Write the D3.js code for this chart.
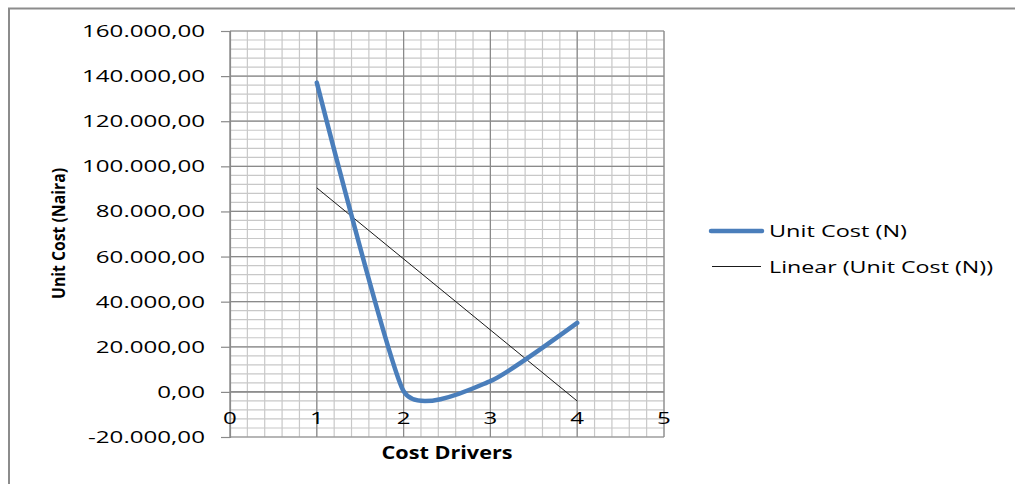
<!DOCTYPE html>
<html>
<head>
<meta charset="utf-8">
<script src="https://cdn.jsdelivr.net/npm/d3@7"></script>
<style>
  html, body { margin: 0; padding: 0; background: #fff; }
  svg { display: block; }
  text { font-family: "Open Sans", "DejaVu Sans", sans-serif; fill: #000; }
</style>
</head>
<body>
<svg id="chart" width="1015" height="484"></svg>
<script>
// Cost drivers (x) and the unit cost observed at each one
const drivers = [1, 2, 3, 4];
const unitCost = [137100, 300, 4800, 30600];

// Axis ticks
const xTicks = [0, 1, 2, 3, 4, 5];
const yTicks = [-20000, 0, 20000, 40000, 60000, 80000, 100000, 120000, 140000, 160000];

// Legend entries
const seriesName = "Unit Cost (N)";
const trendName = "Linear (Unit Cost (N))";

const svg = d3.select("#chart");
const W = 1015, H = 484;

const plot = { left: 230, right: 664, top: 31, bottom: 437 };
const x = d3.scaleLinear().domain([0, 5]).range([plot.left, plot.right]);
const y = d3.scaleLinear().domain([-20000, 160000]).range([plot.bottom, plot.top]);

const fmt = d3.formatLocale({ decimal: ",", thousands: ".", grouping: [3], currency: ["", ""], minus: "-" }).format(",.2f");

// outer frame
svg.append("rect").attr("x", 0).attr("y", 0).attr("width", W).attr("height", H).attr("fill", "#fff");
svg.append("rect")
  .attr("x", 9).attr("y", 8.5).attr("width", W + 20).attr("height", H + 20)
  .attr("fill", "none").attr("stroke", "#8c8c8c").attr("stroke-width", 2);

// minor gridlines: every 0.2 on x, every 4.000 on y
const xMinor = d3.range(0, 5.0001, 0.2);
const yMinor = d3.range(-20000, 160001, 4000);
const grid = svg.append("g");
grid.selectAll("line.xm").data(xMinor).join("line")
  .attr("x1", d => x(d)).attr("x2", d => x(d))
  .attr("y1", plot.top).attr("y2", plot.bottom)
  .attr("stroke", "#c8c8c8").attr("stroke-width", 1.2);
grid.selectAll("line.ym").data(yMinor).join("line")
  .attr("y1", d => y(d)).attr("y2", d => y(d))
  .attr("x1", plot.left).attr("x2", plot.right)
  .attr("stroke", "#c8c8c8").attr("stroke-width", 1.2);

// major gridlines
grid.selectAll("line.xM").data(xTicks).join("line")
  .attr("x1", d => x(d)).attr("x2", d => x(d))
  .attr("y1", plot.top).attr("y2", plot.bottom)
  .attr("stroke", "#8a8a8a").attr("stroke-width", 1.2);
grid.selectAll("line.yM").data(yTicks).join("line")
  .attr("y1", d => y(d)).attr("y2", d => y(d))
  .attr("x1", plot.left).attr("x2", plot.right)
  .attr("stroke", "#8a8a8a").attr("stroke-width", 1.2);

// value axis with outside tick marks
const yAxis = d3.axisLeft(y).tickValues(yTicks).tickSize(9).tickFormat("");
svg.append("g").attr("transform", `translate(${plot.left},0)`).call(yAxis)
  .call(g => g.selectAll("path, line").attr("stroke", "#8a8a8a").attr("stroke-width", 1.2));

// category axis crossing at zero
svg.append("line")
  .attr("x1", plot.left).attr("x2", plot.right)
  .attr("y1", y(0)).attr("y2", y(0))
  .attr("stroke", "#8a8a8a").attr("stroke-width", 1.2);

// tick labels, stretched horizontally like the original rendering
const tickFont = 16.6;
const probe = svg.append("text").attr("font-size", tickFont).text(fmt(160000));
const tickStretch = 123 / probe.node().getComputedTextLength();
probe.remove();

function stretched(sel) {
  sel.each(function () {
    const w = this.getComputedTextLength();
    d3.select(this).attr("textLength", w * tickStretch).attr("lengthAdjust", "spacingAndGlyphs");
  });
}

svg.append("g").selectAll("text").data(yTicks).join("text")
  .attr("x", 205).attr("y", d => y(d) + 6)
  .attr("text-anchor", "end").attr("font-size", tickFont).attr("fill", "#222")
  .text(d => fmt(d)).call(stretched);

svg.append("g").selectAll("text").data(xTicks).join("text")
  .attr("x", d => x(d)).attr("y", 424)
  .attr("text-anchor", "middle").attr("font-size", tickFont).attr("fill", "#222")
  .text(d => d).call(stretched);

// axis titles
svg.append("text")
  .attr("x", (plot.left + plot.right) / 2).attr("y", 459)
  .attr("text-anchor", "middle").attr("font-size", 17.5).attr("font-weight", "bold")
  .attr("textLength", 131).attr("lengthAdjust", "spacingAndGlyphs")
  .text("Cost Drivers");

svg.append("text")
  .attr("transform", "translate(65,233.5) rotate(-90)")
  .attr("text-anchor", "middle").attr("font-size", 18.5).attr("font-weight", "bold")
  .attr("textLength", 131).attr("lengthAdjust", "spacingAndGlyphs")
  .text("Unit Cost (Naira)");

// least-squares trend of the unit cost over the drivers
const mx = d3.mean(drivers), my = d3.mean(unitCost);
const slope = d3.sum(drivers, (d, i) => (d - mx) * (unitCost[i] - my)) / d3.sum(drivers, d => (d - mx) * (d - mx));
const intercept = my - slope * mx;
const trendX = d3.extent(drivers);
const trendPts = trendX.map(d => [d, intercept + slope * d]);

svg.append("path")
  .attr("d", d3.line().x(d => x(d[0])).y(d => y(d[1]))(trendPts))
  .attr("fill", "none").attr("stroke", "#1a1a1a").attr("stroke-width", 1);

// smoothed unit cost line
const pts = drivers.map((d, i) => [d, unitCost[i]]);
svg.append("path")
  .attr("d", d3.line().x(d => x(d[0])).y(d => y(d[1])).curve(d3.curveCardinal.tension(0.5))(pts))
  .attr("fill", "none").attr("stroke", "#4a7ebb").attr("stroke-width", 4.5)
  .attr("stroke-linecap", "round").attr("stroke-linejoin", "round");

// legend
const legend = svg.append("g");
legend.append("line").attr("x1", 711).attr("x2", 762).attr("y1", 231).attr("y2", 231)
  .attr("stroke", "#4a7ebb").attr("stroke-width", 4.5).attr("stroke-linecap", "round");
legend.append("text").attr("x", 769).attr("y", 237).attr("font-size", tickFont).attr("fill", "#222")
  .attr("textLength", 138).attr("lengthAdjust", "spacingAndGlyphs").text(seriesName);
legend.append("line").attr("x1", 712).attr("x2", 761).attr("y1", 266.5).attr("y2", 266.5)
  .attr("stroke", "#1a1a1a").attr("stroke-width", 1);
legend.append("text").attr("x", 769).attr("y", 273).attr("font-size", tickFont).attr("fill", "#222")
  .attr("textLength", 224).attr("lengthAdjust", "spacingAndGlyphs").text(trendName);
</script>
</body>
</html>
